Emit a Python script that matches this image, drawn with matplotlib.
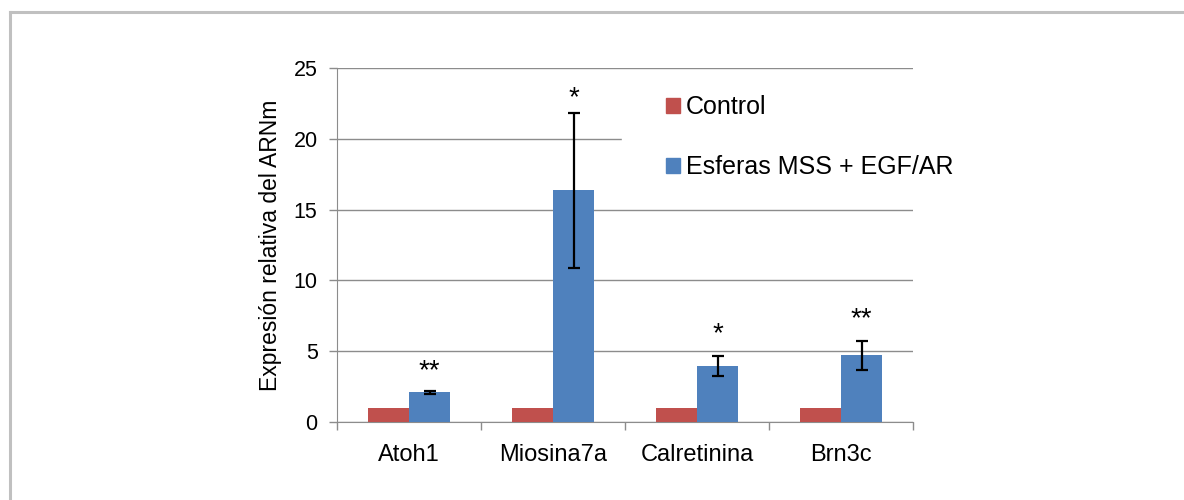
import matplotlib.pyplot as plt
import matplotlib
from matplotlib.lines import Line2D
from matplotlib.patches import Patch
import numpy as np

matplotlib.rcParams['font.family'] = ['Liberation Sans', 'DejaVu Sans']

genes = ['Atoh1', 'Miosina7a', 'Calretinina', 'Brn3c']
control = [1.0, 1.0, 1.0, 1.0]
esferas = [2.1, 16.35, 3.95, 4.7]
esferas_err = [0.12, 5.5, 0.7, 1.05]
estrellas = ['**', '*', '*', '**']
estrella_off = [9, 5, 11, 10]

rojo = '#C0504D'
azul = '#4F81BD'
gris = '#8c8c8c'


def main():
    fig = plt.figure(figsize=(11.84, 5), dpi=100)
    fig.patch.set_facecolor('white')

    # marco exterior (solo borde superior e izquierdo)
    fig.add_artist(Line2D([10 / 1184, 1], [1 - 12 / 500] * 2, color='#c0c0c0', lw=2.2))
    fig.add_artist(Line2D([10 / 1184] * 2, [0, 1 - 12 / 500], color='#c0c0c0', lw=2.2))

    ax = fig.add_axes([337 / 1184, 78 / 500, 576 / 1184, 354 / 500])
    x = np.arange(len(genes))
    w = 0.285

    ax.bar(x - w / 2, control, w, color=rojo, zorder=3, label='Control')
    ax.bar(x + w / 2, esferas, w, color=azul, zorder=3, label='Esferas MSS + EGF/AR')
    ax.errorbar(x + w / 2, esferas, yerr=esferas_err, fmt='none', ecolor='black',
                elinewidth=1.6, capsize=4, capthick=1.6, zorder=4)

    for xi, v, e, s, off in zip(x, esferas, esferas_err, estrellas, estrella_off):
        ax.annotate(s, (xi + w / 2, v + e), xytext=(0, off), textcoords='offset points',
                    ha='center', va='baseline', fontsize=20)

    ax.set_xlim(-0.5, len(genes) - 0.5)
    ax.set_ylim(0, 25)
    ax.set_yticks([0, 5, 10, 15, 20, 25])
    ax.yaxis.grid(True, color=gris, lw=1.0, zorder=0)
    ax.set_axisbelow(True)

    ax.set_xticks(np.arange(len(genes) + 1) - 0.5)
    ax.set_xticklabels([])
    ax.set_xticks(x, minor=True)
    ax.set_xticklabels(genes, minor=True)
    ax.tick_params(axis='x', which='major', length=6, color=gris, width=1)
    ax.tick_params(axis='x', which='minor', length=0, pad=16, labelsize=17)
    ax.tick_params(axis='y', length=6, color=gris, width=1, pad=8, labelsize=15.5)

    for side in ['top', 'right']:
        ax.spines[side].set_visible(False)
    for side in ['left', 'bottom']:
        ax.spines[side].set_color(gris)

    ax.set_ylabel('Expresión relativa del ARNm', fontsize=16.5, labelpad=8)

    # fondo blanco de la leyenda sobre la linea de 20
    ax.axhspan(19.6, 20.4, xmin=(622 - 337) / 576, xmax=1, color='white', zorder=1)

    handles = [Patch(color=rojo), Patch(color=azul)]
    fig.legend(handles, ['Control', 'Esferas MSS + EGF/AR'],
               loc='upper left', bbox_to_anchor=(666 / 1184, 1 - 95 / 500),
               frameon=False, fontsize=18, handlelength=0.55, handleheight=0.55,
               handletextpad=0.25, labelspacing=1.45, borderpad=0, borderaxespad=0)

    plt.savefig('out.png', dpi=100, facecolor='white')


if __name__ == '__main__':
    main()
